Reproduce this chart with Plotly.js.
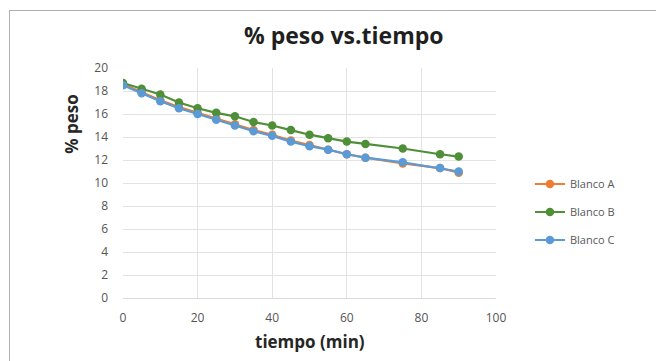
<!DOCTYPE html>
<html>
<head>
<meta charset="utf-8">
<script src="https://cdn.plot.ly/plotly-3.0.1.min.js"></script>
<style>
html,body{margin:0;padding:0;background:#fff;}
#wrap{position:relative;width:656px;height:361px;overflow:hidden;}
#chart{width:656px;height:361px;}
#frame{position:absolute;left:9px;top:10px;width:700px;height:400px;border:1px solid #b0b0b0;pointer-events:none;}
</style>
</head>
<body>
<div id="wrap"><div id="chart"></div><div id="frame"></div></div>
<script>
const tiempo = [0, 5, 10, 15, 20, 25, 30, 35, 40, 45, 50, 55, 60, 65, 75, 85, 90];
const blancoA = [18.6, 17.9, 17.2, 16.6, 16.1, 15.6, 15.1, 14.6, 14.2, 13.7, 13.3, 12.9, 12.5, 12.2, 11.7, 11.3, 10.9];
const blancoB = [18.7, 18.2, 17.7, 17.0, 16.5, 16.1, 15.8, 15.3, 15.0, 14.6, 14.2, 13.9, 13.6, 13.4, 13.0, 12.5, 12.3];
const blancoC = [18.5, 17.8, 17.1, 16.5, 16.0, 15.5, 15.0, 14.5, 14.1, 13.6, 13.2, 12.9, 12.5, 12.2, 11.8, 11.3, 11.0];
const seriesNames = ["Blanco A", "Blanco B", "Blanco C"];
const colors = ["#ED7D31", "#4E8F37", "#5B9BD5"];
const xTicks = [0, 20, 40, 60, 80, 100];
const yTicks = [0, 2, 4, 6, 8, 10, 12, 14, 16, 18, 20];

const data = [blancoA, blancoB, blancoC].map((ys, i) => ({
  x: tiempo, y: ys, name: seriesNames[i], type: 'scatter', mode: 'lines+markers',
  legendgroup: 'g' + i,
  line: {color: colors[i], width: 2.2},
  marker: {color: colors[i], size: 8.5}
}));

const font = "'Open Sans', sans-serif";
const layout = {
  width: 656, height: 361,
  margin: {l: 123, r: 160, t: 68, b: 63},
  paper_bgcolor: '#fff', plot_bgcolor: '#fff',
  showlegend: true,
  font: {family: font, color: '#595959', size: 11},
  xaxis: {
    range: [0, 100], tickvals: xTicks, ticktext: xTicks.map(String),
    showgrid: true, gridcolor: '#e3e3e3', gridwidth: 1,
    zeroline: false, showline: true, linecolor: '#dadada',
    ticks: '', ticklabelstandoff: 9, tickfont: {size: 12, color: '#555555', family: font}
  },
  yaxis: {
    range: [0, 20], tickvals: yTicks, ticktext: yTicks.map(String),
    showgrid: true, gridcolor: '#e3e3e3', gridwidth: 1,
    zeroline: false, showline: false,
    ticks: '', ticklabelstandoff: 14, tickfont: {size: 12, color: '#555555', family: font}
  },
  legend: {
    x: 1.091, xanchor: 'left', y: 0.374, yanchor: 'middle',
    traceorder: 'grouped', tracegroupgap: 9,
    font: {size: 11, color: '#595959', family: font},
    bgcolor: 'rgba(0,0,0,0)'
  },
  annotations: [
    {text: '<b>% peso vs.tiempo</b>', xref: 'paper', yref: 'paper', x: 0.592, y: 1.143,
     xanchor: 'center', yanchor: 'middle',
     showarrow: false, font: {size: 23, color: '#1f1f1f', family: font}},
    {text: '<b>% peso</b>', xref: 'paper', yref: 'paper', x: -0.137, y: 0.757, textangle: -90,
     xanchor: 'center', yanchor: 'middle',
     showarrow: false, font: {size: 17, color: '#262626', family: font}},
    {text: '<b>tiempo (min)</b>', xref: 'paper', yref: 'paper', x: 0.5, y: -0.191,
     xanchor: 'center', yanchor: 'middle',
     showarrow: false, font: {size: 17, color: '#262626', family: font}}
  ]
};

Plotly.newPlot('chart', data, layout, {displayModeBar: false, staticPlot: true});
</script>
</body>
</html>
